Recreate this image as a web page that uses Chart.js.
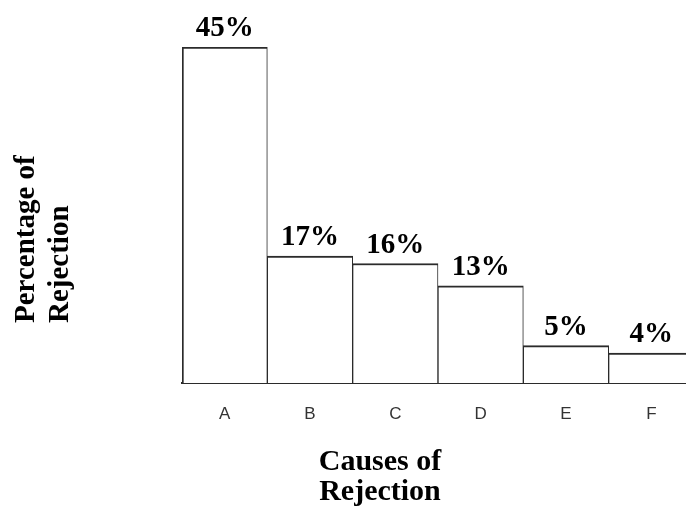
<!DOCTYPE html>
<html>
<head>
<meta charset="utf-8">
<script src="https://cdn.jsdelivr.net/npm/chart.js@4.4.1/dist/chart.umd.min.js"></script>
<style>
  html, body { margin: 0; padding: 0; background: #fff; overflow: hidden; }
  #wrap { width: 700px; height: 508px; }
</style>
</head>
<body>
<div id="wrap"><canvas id="chart" width="700" height="508"></canvas></div>
<script>
// Causes of rejection and their share of all rejections (%)
const causes = ['A', 'B', 'C', 'D', 'E', 'F'];
const rejectionShare = [45, 17, 16, 13, 5, 4];
const shareLabels = ['45%', '17%', '16%', '13%', '5%', '4%'];
const yTitleLines = ['Percentage of', 'Rejection'];
const xTitleLines = ['Causes of', 'Rejection'];

const serifFamily = '"Liberation Serif", "Times New Roman", serif';

// Percentage labels above each bar
const valueLabels = {
  id: 'valueLabels',
  afterDatasetsDraw(chart) {
    const ctx = chart.ctx;
    const meta = chart.getDatasetMeta(0);
    ctx.save();
    ctx.font = 'bold 29px ' + serifFamily;
    ctx.fillStyle = '#000';
    ctx.textAlign = 'center';
    ctx.textBaseline = 'alphabetic';
    meta.data.forEach((bar, i) => {
      ctx.fillText(shareLabels[i], bar.x, bar.y - 11);
    });
    ctx.restore();
  }
};

// Axis titles: stacked rotated lines on the left, centred lines below
const axisTitles = {
  id: 'axisTitles',
  afterDraw(chart) {
    const ctx = chart.ctx;
    ctx.save();
    ctx.fillStyle = '#000';
    ctx.textBaseline = 'alphabetic';

    ctx.font = 'bold 29px ' + serifFamily;
    ctx.textAlign = 'left';
    const yBaselines = [34, 68];
    yTitleLines.forEach((line, i) => {
      ctx.save();
      ctx.translate(yBaselines[i], 323);
      ctx.rotate(-Math.PI / 2);
      ctx.fillText(line, 0, 0);
      ctx.restore();
    });

    ctx.font = 'bold 30px ' + serifFamily;
    ctx.textAlign = 'center';
    const xBaselines = [470, 500];
    xTitleLines.forEach((line, i) => {
      ctx.fillText(line, 380, xBaselines[i]);
    });
    ctx.restore();
  }
};

new Chart(document.getElementById('chart'), {
  type: 'bar',
  data: {
    labels: causes,
    datasets: [{
      data: rejectionShare,
      backgroundColor: '#ffffff',
      borderColor: '#2b2b2b',
      borderWidth: (c) => ({ top: 2, left: c.dataIndex === 0 ? 2 : 1, right: 1, bottom: 0 }),
      borderSkipped: 'start',
      barPercentage: 1,
      categoryPercentage: 1
    }]
  },
  options: {
    responsive: false,
    animation: false,
    events: [],
    layout: { padding: { left: 182, top: 47, right: 6, bottom: 62.6 } },
    plugins: {
      legend: { display: false },
      tooltip: { enabled: false },
      title: { display: false }
    },
    scales: {
      x: {
        grid: { display: false, drawTicks: false },
        border: { display: true, color: '#2b2b2b', width: 2 },
        ticks: {
          color: '#333333',
          padding: 21,
          font: { family: '"Liberation Sans", Arial, sans-serif', size: 17 }
        }
      },
      y: {
        display: false,
        min: 0,
        max: 45
      }
    }
  },
  plugins: [valueLabels, axisTitles]
});
</script>
</body>
</html>
